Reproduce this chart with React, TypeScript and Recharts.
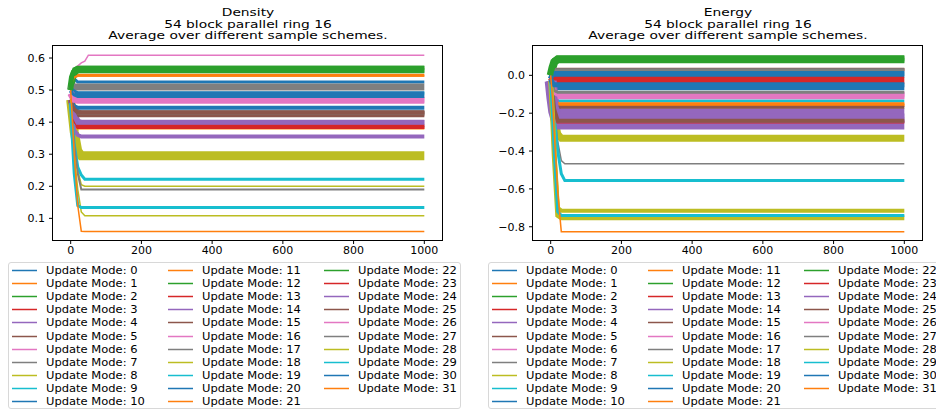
import React from "react";
import { LineChart, Line, XAxis, YAxis } from "recharts";

// sample steps (the curves settle after ~50 steps)
const steps = [0, 5, 10, 20, 30, 40, 50, 1000];

const modeLabels = Array.from({ length: 32 }, (_, i) => `Update Mode: ${i}`);

const tab10 = [
  "#1f77b4", "#ff7f0e", "#2ca02c", "#d62728", "#9467bd",
  "#8c564b", "#e377c2", "#7f7f7f", "#bcbd22", "#17becf",
];

// density per mode, one row per mode, values at `steps`
const densityRuns: number[][] = [
  [0.5, 0.53, 0.535, 0.525, 0.525, 0.525, 0.525, 0.525],
  [0.5, 0.53, 0.54, 0.546, 0.546, 0.546, 0.546, 0.546],
  [0.5, 0.54, 0.555, 0.565, 0.565, 0.565, 0.565, 0.565],
  [0.46, 0.43, 0.4, 0.386, 0.385, 0.385, 0.385, 0.385],
  [0.47, 0.44, 0.42, 0.4, 0.396, 0.396, 0.396, 0.396],
  [0.47, 0.45, 0.44, 0.43, 0.428, 0.428, 0.428, 0.428],
  [0.5, 0.53, 0.55, 0.575, 0.585, 0.59, 0.609, 0.609],
  [0.5, 0.51, 0.51, 0.51, 0.51, 0.51, 0.51, 0.51],
  [0.47, 0.42, 0.37, 0.31, 0.295, 0.295, 0.295, 0.295],
  [0.49, 0.49, 0.49, 0.49, 0.49, 0.49, 0.49, 0.49],
  [0.49, 0.5, 0.495, 0.49, 0.49, 0.49, 0.49, 0.49],
  [0.46, 0.42, 0.395, 0.38, 0.38, 0.38, 0.38, 0.38],
  [0.5, 0.54, 0.555, 0.56, 0.56, 0.56, 0.56, 0.56],
  [0.46, 0.42, 0.395, 0.383, 0.383, 0.383, 0.383, 0.383],
  [0.46, 0.41, 0.375, 0.36, 0.355, 0.355, 0.355, 0.355],
  [0.47, 0.45, 0.435, 0.425, 0.425, 0.425, 0.425, 0.425],
  [0.49, 0.48, 0.47, 0.468, 0.468, 0.468, 0.468, 0.468],
  [0.47, 0.45, 0.44, 0.43, 0.43, 0.43, 0.43, 0.43],
  [0.47, 0.4, 0.33, 0.25, 0.205, 0.2, 0.2, 0.2],
  [0.46, 0.4, 0.33, 0.26, 0.235, 0.222, 0.222, 0.222],
  [0.47, 0.46, 0.45, 0.445, 0.445, 0.445, 0.445, 0.445],
  [0.5, 0.53, 0.54, 0.545, 0.545, 0.545, 0.545, 0.545],
  [0.5, 0.55, 0.565, 0.57, 0.57, 0.57, 0.57, 0.57],
  [0.46, 0.43, 0.4, 0.39, 0.39, 0.39, 0.39, 0.39],
  [0.47, 0.44, 0.42, 0.4, 0.4, 0.4, 0.4, 0.4],
  [0.47, 0.45, 0.44, 0.43, 0.43, 0.43, 0.43, 0.43],
  [0.49, 0.48, 0.47, 0.47, 0.47, 0.47, 0.47, 0.47],
  [0.46, 0.4, 0.33, 0.24, 0.19, 0.19, 0.19, 0.19],
  [0.47, 0.38, 0.3, 0.19, 0.12, 0.108, 0.108, 0.108],
  [0.46, 0.34, 0.24, 0.14, 0.134, 0.134, 0.134, 0.134],
  [0.49, 0.49, 0.485, 0.48, 0.48, 0.48, 0.48, 0.48],
  [0.5, 0.4, 0.3, 0.14, 0.06, 0.059, 0.059, 0.059],
];

// energy per mode, values at `steps`
const energyRuns: number[][] = [
  [-0.02, 0.0, 0.005, 0.005, 0.005, 0.005, 0.005, 0.005],
  [-0.02, -0.08, -0.13, -0.155, -0.155, -0.155, -0.155, -0.155],
  [0.0, 0.04, 0.07, 0.085, 0.085, 0.085, 0.085, 0.085],
  [0.0, 0.02, 0.03, 0.03, 0.03, 0.03, 0.03, 0.03],
  [-0.03, -0.1, -0.16, -0.2, -0.2, -0.2, -0.2, -0.2],
  [0.0, 0.02, 0.03, 0.032, 0.032, 0.032, 0.032, 0.032],
  [-0.03, -0.06, -0.09, -0.105, -0.105, -0.105, -0.105, -0.105],
  [0.0, 0.02, 0.03, 0.03, 0.03, 0.03, 0.03, 0.03],
  [-0.03, -0.12, -0.22, -0.31, -0.332, -0.332, -0.332, -0.332],
  [-0.03, -0.08, -0.12, -0.135, -0.135, -0.135, -0.135, -0.135],
  [-0.03, -0.05, -0.06, -0.06, -0.06, -0.06, -0.06, -0.06],
  [-0.02, -0.08, -0.13, -0.16, -0.16, -0.16, -0.16, -0.16],
  [0.0, 0.04, 0.07, 0.08, 0.08, 0.08, 0.08, 0.08],
  [-0.01, -0.02, -0.026, -0.026, -0.026, -0.026, -0.026, -0.026],
  [-0.03, -0.12, -0.19, -0.255, -0.255, -0.255, -0.255, -0.255],
  [-0.02, -0.09, -0.14, -0.168, -0.168, -0.168, -0.168, -0.168],
  [-0.03, -0.06, -0.09, -0.11, -0.11, -0.11, -0.11, -0.11],
  [-0.02, -0.1, -0.18, -0.35, -0.45, -0.467, -0.467, -0.467],
  [-0.03, -0.2, -0.4, -0.7, -0.715, -0.715, -0.715, -0.715],
  [-0.03, -0.12, -0.22, -0.4, -0.52, -0.556, -0.556, -0.556],
  [-0.01, 0.0, 0.01, 0.01, 0.01, 0.01, 0.01, 0.01],
  [-0.02, -0.08, -0.12, -0.15, -0.15, -0.15, -0.15, -0.15],
  [0.0, 0.05, 0.08, 0.09, 0.09, 0.09, 0.09, 0.09],
  [-0.03, -0.12, -0.2, -0.246, -0.246, -0.246, -0.246, -0.246],
  [-0.03, -0.1, -0.17, -0.225, -0.225, -0.225, -0.225, -0.225],
  [-0.03, -0.1, -0.18, -0.24, -0.24, -0.24, -0.24, -0.24],
  [-0.03, -0.06, -0.09, -0.1, -0.1, -0.1, -0.1, -0.1],
  [-0.02, -0.05, -0.08, -0.09, -0.09, -0.09, -0.09, -0.09],
  [-0.03, -0.2, -0.42, -0.74, -0.753, -0.753, -0.753, -0.753],
  [-0.03, -0.2, -0.4, -0.72, -0.741, -0.741, -0.741, -0.741],
  [-0.02, -0.04, -0.05, -0.05, -0.05, -0.05, -0.05, -0.05],
  [0.0, -0.12, -0.3, -0.62, -0.826, -0.826, -0.826, -0.826],
];

// how thick each curve looks (the fast oscillation smears into a band)
const densityWidth = [3, 3, 7, 3, 7, 6, 1.5, 7, 9, 3, 4, 2, 5, 3, 4, 6, 7, 4, 1.5, 3, 4, 2, 4, 2, 5, 4, 6, 2, 1.5, 3, 3, 1.5];
const energyWidth = [6, 4, 8, 3, 10, 3, 7, 3, 7, 3, 7, 3, 5, 7, 12, 3, 6, 1.5, 4, 3, 5, 3, 5, 3, 9, 4, 5, 3, 5, 3, 5, 1.5];

const xTicks = [0, 200, 400, 600, 800, 1000];
const densityTicks = [0.1, 0.2, 0.3, 0.4, 0.5, 0.6];
const energyTicks = [-0.8, -0.6, -0.4, -0.2, 0.0];

const toRows = (runs: number[][]) =>
  steps.map((x, k) => {
    const row: Record<string, number> = { x };
    runs.forEach((r, i) => (row[`m${i}`] = r[k]));
    return row;
  });

const font = "DejaVu Sans, sans-serif";
const fmt = (v: number) => (v < 0 ? "\u2212" + Math.abs(v).toFixed(1) : v.toFixed(1));

const CHART_W = 470;
const CHART_H = 262;
const Y_AXIS_W = 45;
const PLOT_TOP = 46;
const PLOT_BOTTOM = 240;

type PanelProps = {
  left: number;
  title: string[];
  runs: number[][];
  widths: number[];
  yDomain: [number, number];
  yTicks: number[];
  marginLeft: number;
  marginRight: number;
};

const Panel = ({ left, title, runs, widths, yDomain, yTicks, marginLeft, marginRight }: PanelProps) => {
  const data = toRows(runs);
  const plotLeft = marginLeft + Y_AXIS_W;
  const plotRight = CHART_W - marginRight;
  const plotCenter = (plotLeft + plotRight) / 2;
  return (
    <div style={{ position: "absolute", left, top: 0, width: CHART_W, height: CHART_H }}>
      <div
        style={{
          position: "absolute",
          left: plotCenter - 200,
          width: 400,
          top: 7,
          textAlign: "center",
          fontSize: 10,
          lineHeight: "11.5px",
          transform: "scaleX(1.38)",
          color: "#000",
        }}
      >
        {title.map((t) => (
          <div key={t}>{t}</div>
        ))}
      </div>
      <LineChart
        width={CHART_W}
        height={CHART_H}
        data={data}
        margin={{ top: PLOT_TOP, right: marginRight, bottom: CHART_H - PLOT_BOTTOM - 20, left: marginLeft }}
      >
        <XAxis
          dataKey="x"
          type="number"
          domain={[-50, 1050]}
          ticks={xTicks}
          height={20}
          tickSize={4}
          tickMargin={2}
          stroke="#000"
          axisLine={false}
          tick={{ fill: "#000", fontSize: 11, fontFamily: font }}
        />
        <YAxis
          type="number"
          domain={yDomain}
          ticks={yTicks}
          width={Y_AXIS_W}
          tickSize={4}
          tickMargin={4}
          stroke="#000"
          axisLine={false}
          allowDataOverflow
          tickFormatter={fmt}
          tick={{ fill: "#000", fontSize: 11, fontFamily: font }}
        />
        {runs.map((_, i) => (
          <Line
            key={i}
            dataKey={`m${i}`}
            type="linear"
            stroke={tab10[i % 10]}
            strokeWidth={widths[i]}
            dot={false}
            isAnimationActive={false}
          />
        ))}
      </LineChart>
      {/* axes frame */}
      <div
        style={{
          position: "absolute",
          left: plotLeft - 1,
          top: PLOT_TOP - 1,
          width: plotRight - plotLeft + 2,
          height: PLOT_BOTTOM - PLOT_TOP + 2,
          border: "1px solid #000",
          boxSizing: "border-box",
          pointerEvents: "none",
        }}
      />
    </div>
  );
};

const LegendBox = ({ left }: { left: number }) => (
  <div
    style={{
      position: "absolute",
      left,
      top: 262,
      width: 453,
      height: 147,
      border: "1px solid #d8d8d8",
      borderRadius: 3,
      boxSizing: "border-box",
      background: "#fff",
    }}
  >
    {modeLabels.map((label, i) => {
      const col = Math.floor(i / 11);
      const row = i % 11;
      return (
        <div
          key={label}
          style={{
            position: "absolute",
            left: 3 + col * 156,
            top: 1 + Math.round(row * 13.1),
            height: 13,
            display: "flex",
            alignItems: "center",
            whiteSpace: "nowrap",
          }}
        >
          <svg width={25} height={13} style={{ display: "block" }}>
            <line x1={0} x2={25} y1={6.5} y2={6.5} stroke={tab10[i % 10]} strokeWidth={1.5} />
          </svg>
          <div
            style={{
              marginLeft: 9,
              fontSize: 10,
              lineHeight: "13px",
              transform: "scaleX(1.15)",
              transformOrigin: "left center",
              color: "#000",
            }}
          >
            {label}
          </div>
        </div>
      );
    })}
  </div>
);

export default function App() {
  return (
    <div
      style={{
        position: "absolute",
        left: 0,
        top: 0,
        width: 936,
        height: 412,
        overflow: "hidden",
        background: "#fff",
        fontFamily: font,
      }}
    >
      <Panel
        left={0}
        title={["Density", "54 block parallel ring 16", "Average over different sample schemes."]}
        runs={densityRuns}
        widths={densityWidth}
        yDomain={[0.0325, 0.6375]}
        yTicks={densityTicks}
        marginLeft={8}
        marginRight={28}
      />
      <Panel
        left={470}
        title={["Energy", "54 block parallel ring 16", "Average over different sample schemes."]}
        runs={energyRuns}
        widths={energyWidth}
        yDomain={[-0.87, 0.155]}
        yTicks={energyTicks}
        marginLeft={18}
        marginRight={18}
      />
      <LegendBox left={8} />
      <LegendBox left={488} />
    </div>
  );
}
